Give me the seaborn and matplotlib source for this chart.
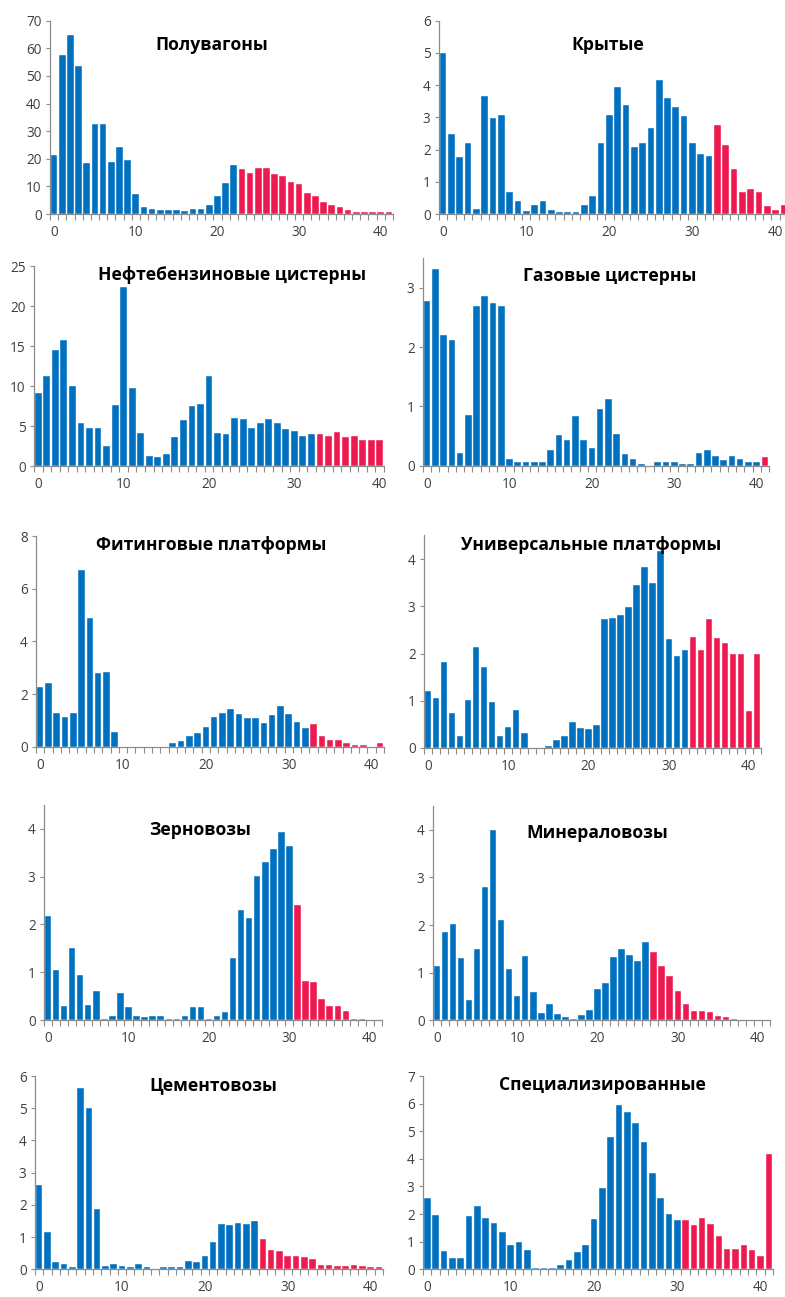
import numpy as np
import pandas as pd
import matplotlib
matplotlib.use("Agg")
import matplotlib.pyplot as plt
import seaborn as sns

# ---- data ----
titles = ["Полувагоны", "Крытые", "Нефтебензиновые цистерны", "Газовые цистерны",
          "Фитинговые платформы", "Универсальные платформы", "Зерновозы",
          "Минераловозы", "Цементовозы", "Специализированные"]

poluvagony = [21.5, 57.7, 64.7, 53.6, 18.3, 32.6, 32.6, 18.7, 24.3, 19.6,
              7.2, 2.4, 1.9, 1.4, 1.4, 1.4, 1.1, 1.9, 1.9, 3.4,
              6.6, 11.2, 17.7, 16.3, 15.0, 16.8, 16.8, 14.5, 13.6, 11.7,
              10.9, 7.5, 6.6, 4.2, 3.4, 2.4, 1.4, 0.7, 0.7, 0.7,
              0.7, 0.7]
krytye = [4.99, 2.47, 1.76, 2.19, 0.17, 3.67, 2.99, 3.07, 0.68, 0.40,
          0.09, 0.29, 0.40, 0.12, 0.06, 0.06, 0.06, 0.29, 0.57, 2.19,
          3.07, 3.95, 3.39, 2.08, 2.19, 2.68, 4.15, 3.59, 3.31, 3.03,
          2.19, 1.87, 1.80, 2.75, 2.15, 1.40, 0.68, 0.77, 0.68, 0.25,
          0.12, 0.29]
neftebenz = [9.1, 11.3, 14.5, 15.8, 10.0, 5.4, 4.75, 4.75, 2.5, 7.6,
             22.4, 9.75, 4.1, 1.2, 1.1, 1.5, 3.6, 5.7, 7.5, 7.8,
             11.2, 4.1, 4.0, 6.0, 5.9, 4.75, 5.4, 5.9, 5.4, 4.6,
             4.4, 3.8, 3.95, 3.95, 3.8, 4.3, 3.6, 3.8, 3.3, 3.3,
             3.3]
gazovye = [2.78, 3.31, 2.21, 2.11, 0.22, 0.85, 2.69, 2.86, 2.75, 2.69,
           0.12, 0.06, 0.06, 0.06, 0.07, 0.27, 0.51, 0.44, 0.83, 0.44,
           0.29, 0.96, 1.13, 0.53, 0.19, 0.12, 0.03, 0.0, 0.06, 0.07,
           0.06, 0.03, 0.03, 0.22, 0.27, 0.16, 0.10, 0.16, 0.12, 0.07,
           0.06, 0.14]
fiting = [2.25, 2.41, 1.29, 1.14, 1.29, 6.70, 4.90, 2.80, 2.85, 0.56,
          0.0, 0.0, 0.0, 0.0, 0.0, 0.0, 0.13, 0.22, 0.41, 0.51,
          0.75, 1.14, 1.29, 1.43, 1.24, 1.09, 1.09, 0.90, 1.19, 1.53,
          1.24, 0.95, 0.70, 0.85, 0.41, 0.27, 0.27, 0.13, 0.06, 0.06,
          0.0, 0.13]
universal = [1.21, 1.05, 1.81, 0.75, 0.26, 1.02, 2.13, 1.71, 0.97, 0.26,
             0.45, 0.80, 0.32, 0.0, 0.0, 0.04, 0.16, 0.26, 0.54, 0.42,
             0.40, 0.48, 2.73, 2.76, 2.81, 2.98, 3.44, 3.84, 3.49, 4.17,
             2.30, 1.95, 2.08, 2.35, 2.08, 2.73, 2.32, 2.22, 2.00, 2.00,
             0.78, 1.98]
zernovozy = [2.17, 1.06, 0.29, 1.50, 0.94, 0.32, 0.62, 0.03, 0.10, 0.56,
             0.27, 0.10, 0.06, 0.08, 0.10, 0.03, 0.03, 0.10, 0.27, 0.27,
             0.03, 0.08, 0.17, 1.29, 2.30, 2.14, 3.02, 3.30, 3.58, 3.93,
             3.64, 2.41, 0.83, 0.80, 0.45, 0.29, 0.29, 0.19, 0.03, 0.03,
             0.0, 0.0]
mineralovozy = [1.13, 1.86, 2.02, 1.30, 0.43, 1.49, 2.80, 3.99, 2.10, 1.08,
                0.51, 1.35, 0.60, 0.16, 0.35, 0.14, 0.06, 0.03, 0.11, 0.22,
                0.65, 0.78, 1.32, 1.49, 1.38, 1.24, 1.65, 1.43, 1.13, 0.92,
                0.62, 0.35, 0.19, 0.19, 0.17, 0.08, 0.06, 0.03, 0.0, 0.0,
                0.0, 0.0]
cementovozy = [2.61, 1.17, 0.22, 0.18, 0.06, 5.62, 5.00, 1.88, 0.10, 0.18,
               0.10, 0.06, 0.18, 0.06, 0.0, 0.06, 0.06, 0.06, 0.26, 0.22,
               0.41, 0.86, 1.41, 1.37, 1.45, 1.41, 1.49, 0.93, 0.61, 0.57,
               0.41, 0.41, 0.37, 0.33, 0.13, 0.13, 0.10, 0.10, 0.13, 0.10,
               0.06, 0.06]
specialized = [2.57, 1.96, 0.65, 0.42, 0.42, 1.92, 2.29, 1.87, 1.68, 1.35,
               0.89, 0.98, 0.71, 0.05, 0.05, 0.05, 0.16, 0.34, 0.62, 0.89,
               1.82, 2.93, 4.79, 5.96, 5.68, 5.31, 4.61, 3.49, 2.57, 2.00,
               1.77, 1.77, 1.59, 1.87, 1.63, 1.22, 0.75, 0.75, 0.89, 0.71,
               0.47, 4.19]

series = [poluvagony, krytye, neftebenz, gazovye, fiting, universal,
          zernovozy, mineralovozy, cementovozy, specialized]
# first category drawn in red for each panel
red_from = [23, 33, 33, 41, 33, 33, 31, 27, 27, 31]
y_max = [70, 6, 25, 3.5, 8, 4.5, 4.5, 4.5, 6, 7]
y_step = [10, 1, 5, 1, 2, 1, 1, 1, 1, 1]
x_labels = [0, 10, 20, 30, 40]

BLUE = "#0070C0"
RED = "#EE1A4F"
GREY = "#8C8C8C"

# ---- layout in pixels: left, right, top, bottom of each plot area ----
W, H = 785, 1297
boxes = [(50, 393, 20.7, 214), (439, 788, 20.7, 214),
         (34, 384, 266, 466), (423, 769, 258, 465.7),
         (36, 384, 536, 746.7), (424, 761, 535.4, 748),
         (44, 382, 804.7, 1020.3), (433, 770, 806, 1020.3),
         (35, 383, 1076, 1269.3), (423, 773, 1076, 1269.3)]
title_pos = [(212, 45), (608, 45), (232, 275), (610, 276), (211, 545),
             (591, 545), (200, 830), (597, 833), (213, 1085), (602, 1085)]

sns.set_style("white")
plt.rcParams["font.family"] = ["Open Sans", "DejaVu Sans"]

fig = plt.figure(figsize=(W / 100, H / 100), dpi=100)

for i, vals in enumerate(series):
    l, r, t, b = boxes[i]
    ax = fig.add_axes([l / W, 1 - b / H, (r - l) / W, (b - t) / H])
    n = len(vals)
    df = pd.DataFrame({"x": np.arange(n), "y": vals})
    df["grp"] = np.where(df["x"] >= red_from[i], "red", "blue")
    sns.barplot(data=df, x="x", y="y", hue="grp",
                palette={"blue": BLUE, "red": RED}, dodge=False,
                saturation=1, width=0.8, edgecolor="white", linewidth=0.3,
                legend=False, ax=ax)

    ax.set_xlim(-0.5, n - 0.5)
    ax.set_ylim(0, y_max[i])
    ax.set_xticks(x_labels)
    ax.set_xticklabels([str(v) for v in x_labels])
    ax.set_xticks(np.arange(-0.5, n), minor=True)
    ax.set_yticks(np.arange(0, y_max[i] + 0.01, y_step[i]))
    ax.set_xlabel("")
    ax.set_ylabel("")

    ax.tick_params(axis="x", which="major", length=0, pad=8,
                   labelsize=9.8, labelcolor="#404040")
    ax.tick_params(axis="x", which="minor", length=4, width=0.8,
                   color=GREY, direction="out", bottom=True)
    ax.tick_params(axis="y", length=3, width=0.8, color=GREY,
                   left=True, labelsize=9.8, labelcolor="#404040", pad=3)

    sns.despine(ax=ax)
    for side in ("left", "bottom"):
        ax.spines[side].set_color(GREY)
        ax.spines[side].set_linewidth(0.9)

    cx, cy = title_pos[i]
    fig.text(cx / W, 1 - cy / H, titles[i], ha="center", va="center",
             fontsize=12.6, fontweight="bold", color="black")

fig.savefig("out.png", dpi=100)
